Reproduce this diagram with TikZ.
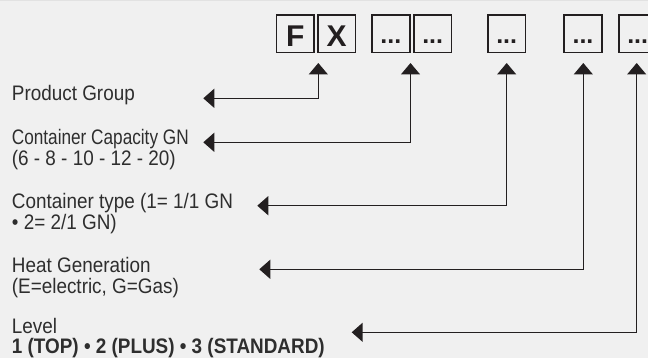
\documentclass[tikz,border=0pt]{standalone}
\usepackage{fontspec}
\setmainfont{Liberation Sans}[FakeStretch=0.9]
\newfontfamily\boxfont{Liberation Sans}
\usetikzlibrary{arrows.meta}
\definecolor{paper}{HTML}{F0F0F0}
\definecolor{rim}{HTML}{E2E2E2}
\definecolor{ink}{HTML}{231F20}
\definecolor{txt}{HTML}{2E2E2E}
% two-line label whose baseline is that of its first line
\newcommand{\twolines}[2]{\begin{tabular}[t]{@{}l@{}}#1\\#2\end{tabular}}
% a line set a little narrower
\newcommand{\narrow}[1]{\scalebox{0.91}[1]{#1}}

\begin{document}
\begin{tikzpicture}[x=1pt,y=-1pt,
  codebox/.style={draw=ink, line width=1.7pt, minimum width=37.6pt,
    minimum height=37.6pt, inner sep=0pt, text height=25.6pt, text depth=0pt,
    font=\boxfont\fontsize{30}{30}\selectfont\bfseries, text=ink},
  dotbox/.style={codebox, text height=19.6pt,
    font=\boxfont\fontsize{25}{25}\selectfont\bfseries},
  label/.style={anchor=base west, inner sep=0pt, text=txt,
    font=\fontsize{21}{19}\selectfont},
  conn/.style={draw=ink, line width=1.5pt,
    {Triangle[length=11pt,width=19pt]}-{Triangle[length=11.5pt,width=19pt]}},
]
% page
\fill[paper] (0,0) rectangle (648,358);
\fill[rim] (0,0) rectangle (648,1.2);
\useasboundingbox (0,0) rectangle (648,358);

% code boxes
\node[codebox] (bF) at (295.35,33.65) {F};
\node[codebox] (bX) at (336.7,33.65) {X};
\node[dotbox]  (b3) at (390.85,33.65) {...};
\node[dotbox]  (b4) at (432.7,33.65) {...};
\node[dotbox]  (b5) at (506.7,33.65) {...};
\node[dotbox]  (b6) at (583,33.65) {...};
\node[dotbox]  (b7) at (637.7,33.65) {...};

% labels
\node[label] (pg) at (11.7,100.7) {Product Group};
\node[label] (cc) at (11.7,145) {\twolines{\narrow{Container Capacity GN}}{(6 - 8 - 10 - 12 - 20)}};
\node[label] (ct) at (11.7,208.3) {\twolines{Container type (1= 1/1 GN}{• 2= 2/1 GN)}};
\node[label] (hg) at (11.7,272.7) {\twolines{Heat Generation}{(E=electric, G=Gas)}};
\node[label] (lv) at (11.7,333) {\twolines{Level}{\textbf{1 (TOP) • 2 (PLUS) • 3 (STANDARD)}}};

% arrow ends
\coordinate (pg-in) at (203.3,98.3);  \coordinate (pg-up) at (318.3,63);
\coordinate (cc-in) at (203.3,142.3); \coordinate (cc-up) at (410.5,63);
\coordinate (ct-in) at (257.3,205.7); \coordinate (ct-up) at (506.7,63);
\coordinate (hg-in) at (259.3,269.3); \coordinate (hg-up) at (583.3,63);
\coordinate (lv-in) at (351.7,332.3); \coordinate (lv-up) at (636.7,63);

% connectors
\draw[conn] (pg-in) -| (pg-up);
\draw[conn] (cc-in) -| (cc-up);
\draw[conn] (ct-in) -| (ct-up);
\draw[conn] (hg-in) -| (hg-up);
\draw[conn] (lv-in) -| (lv-up);
\end{tikzpicture}
\end{document}
